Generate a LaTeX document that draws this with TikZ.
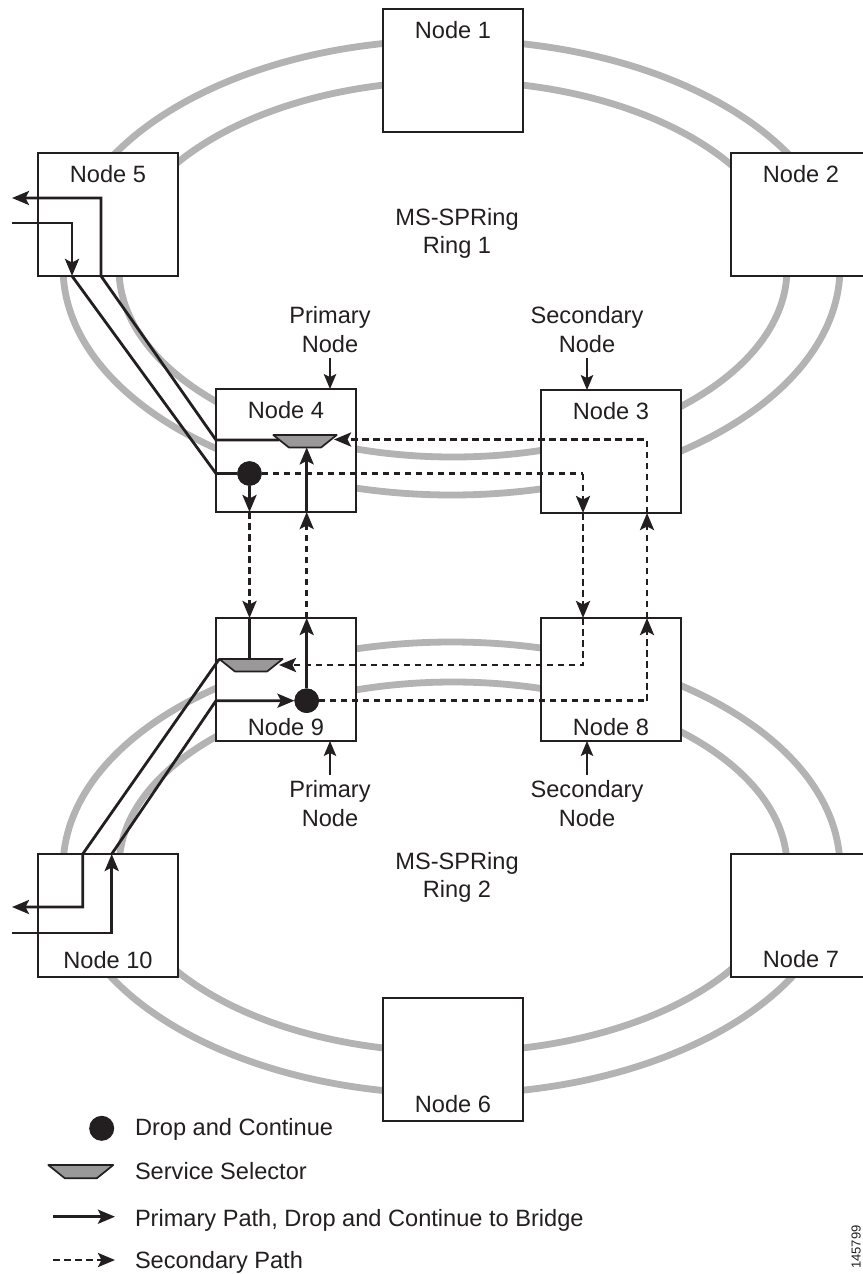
\documentclass[tikz,border=0pt]{standalone}
\usepackage{fontspec}
\setmainfont{Liberation Sans}
\usetikzlibrary{arrows.meta}
\definecolor{ringgray}{HTML}{B3B3B3}
\definecolor{selgray}{HTML}{999999}
\definecolor{ink}{HTML}{231F20}
\newcommand{\selshape}[1]{\draw[sel] (#1) ++(-31.7,-6.2) -- ++(63.4,0) -- ++(-15.5,12.4) -- ++(-32.4,0) -- cycle;}
\begin{document}
\begin{tikzpicture}[x=1pt,y=-1pt,
  ring/.style={draw=ringgray, line width=6.8pt},
  nbox/.style={draw=ink, fill=white, line width=2.3pt, minimum width=140pt, minimum height=123pt, inner sep=0pt, outer sep=0pt, anchor=north west},
  lbl/.style={font=\fontsize{23.6}{29}\selectfont, text=ink, anchor=base, inner sep=0pt, outer sep=0pt},
  lblw/.style={lbl, anchor=base west},
  ptip/.style={-{Stealth[length=17pt,width=14pt,inset=3.5pt]}},
  prim/.style={draw=ink, line width=2.8pt},
  sec/.style={draw=ink, line width=2.8pt, dash pattern=on 6.5pt off 4.5pt},
  lblarr/.style={draw=ink, line width=1.5pt, -{Stealth[length=15pt,width=12.5pt,inset=3pt]}},
  dotn/.style={circle, fill=ink, minimum size=24.5pt, inner sep=0pt, outer sep=0pt},
  sel/.style={draw=ink, fill=selgray, line width=1.7pt, line join=round}]
\useasboundingbox (0,0) rectangle (862,1274);
\fill[white] (0,0) rectangle (862,1274);

% rings
\draw[ring] (451.5,267.5) ellipse [x radius=388.5, y radius=227.5];
\draw[ring] (453,269) ellipse [x radius=334, y radius=188];
\draw[ring] (451.5,868) ellipse [x radius=388.5, y radius=226];
\draw[ring] (453,867) ellipse [x radius=334, y radius=185];

% boxes
\node[nbox] (n1) at (383,9) {};
\node[nbox] (n2) at (731,153) {};
\node[nbox] (n5) at (38,153) {};
\node[nbox] (n4) at (216,389) {};
\node[nbox] (n3) at (541,390) {};
\node[nbox] (n9) at (216,618) {};
\node[nbox] (n8) at (541,618) {};
\node[nbox] (n10) at (38,854) {};
\node[nbox] (n7) at (731,854) {};
\node[nbox] (n6) at (383,998) {};

% box labels
\node[lbl] (l1) at (453,38) {Node 1};
\node[lbl] (l2) at (801,182) {Node 2};
\node[lbl] (l5) at (108,182) {Node 5};
\node[lbl] (l4) at (286,418) {Node 4};
\node[lbl] (l3) at (611,419) {Node 3};
\node[lbl] (l9) at (286,735) {Node 9};
\node[lbl] (l8) at (611,735) {Node 8};
\node[lbl] (l10) at (108,968) {Node 10};
\node[lbl] (l7) at (801,967) {Node 7};
\node[lbl] (l6) at (453,1112) {Node 6};

% ring labels
\node[lbl] (r1a) at (457,225) {MS-SPRing};
\node[lbl] (r1b) at (457,253) {Ring 1};
\node[lbl] (r2a) at (457,869) {MS-SPRing};
\node[lbl] (r2b) at (457,897) {Ring 2};

% primary / secondary labels
\node[lbl] (p4a) at (330,323.5) {Primary};
\node[lbl] (p4b) at (330,352.5) {Node};
\node[lbl] (s3a) at (587,323.5) {Secondary};
\node[lbl] (s3b) at (587,352.5) {Node};
\node[lbl] (p9a) at (330,797) {Primary};
\node[lbl] (p9b) at (330,826) {Node};
\node[lbl] (s8a) at (587,797) {Secondary};
\node[lbl] (s8b) at (587,826) {Node};
\draw[lblarr] ([yshift=-5.5pt]p4b.base) -- (p4b |- n4.north);
\draw[lblarr] ([yshift=-5.5pt]s3b.base) -- (s3b |- n3.north);
\draw[lblarr] ([yshift=5pt]p9a.north) -- (p9a |- n9.south);
\draw[lblarr] ([yshift=5pt]s8a.north) -- (s8a |- n8.south);

% selectors and dots (positions)
\coordinate (s4) at (305,441.2);
\coordinate (s9) at (251,665.2);
\node[dotn] (d4) at (249.5,473.5) {};
\node[dotn] (d9) at (306.7,700.7) {};

% named path points
\coordinate (s4l) at (279,440);
\coordinate (s4r) at (334,439.5);
\coordinate (s4b) at (305,447.4);
\coordinate (s9l) at (219.3,659);
\coordinate (s9r) at (279,665);
\coordinate (a1) at (216,440);
\coordinate (a2) at (101,276);
\coordinate (a3) at (101,198);
\coordinate (out5) at (12,198);
\coordinate (in5) at (12,223);
\coordinate (b1) at (72,223);
\coordinate (b2) at (72,276);
\coordinate (b3) at (216,473.5);
\coordinate (c1) at (583,473.5);
\coordinate (c2) at (583,665);
\coordinate (e1) at (82.7,854);
\coordinate (e2) at (82.7,907);
\coordinate (out10) at (12,907);
\coordinate (in10) at (12,933);
\coordinate (f1) at (111.7,933);
\coordinate (f2) at (111.7,854);
\coordinate (f3) at (216,700.7);
\coordinate (g1) at (647,700.7);
\coordinate (g2) at (647,439.5);

% primary path from Node 4 selector to Node 5 drop
\draw[prim, ptip] (s4l) -- (a1) -- (a2) -- (a3) -- (out5);
% Node 5 add into ring 1 to Node 4 drop-and-continue
\draw[prim, ptip] (in5) -- (b1) -- (b2);
\draw[prim] (b2) -- (b3) -- (d4);
\draw[prim, ptip] (d4.south) -- (d4 |- n4.south);
\draw[sec, ptip] (d4 |- n4.south) -- (d4 |- n9.north);
\draw[prim] (d4 |- n9.north) -- (d4 |- s9);
% secondary from Node 4 via Node 3 / Node 8 to Node 9 selector
\draw[sec] (d4.east) -- (c1);
\draw[sec, ptip] (c1) -- (c1 |- n3.south);
\draw[sec, ptip] (c1 |- n3.south) -- (c1 |- n8.north);
\draw[sec, ptip] (c1 |- n8.north) -- (c2) -- (s9r);
% Node 9 selector to Node 10 drop
\draw[prim, ptip] (s9l) -- (e1) -- (e2) -- (out10);
% Node 10 add into ring 2 to Node 9 drop-and-continue
\draw[prim, ptip] (in10) -- (f1) -- (f2);
\draw[prim, ptip] (f2) -- (f3) -- (d9.west);
\draw[prim, ptip] (d9.north) -- (d9 |- n9.north);
\draw[sec, ptip] (d9 |- n9.north) -- (d9 |- n4.south);
\draw[prim, ptip] (d9 |- n4.south) -- (d9 |- s4b);
% secondary from Node 9 via Node 8 / Node 3 to Node 4 selector
\draw[sec] (d9.east) -- (g1);
\draw[sec, ptip] (g1) -- (g1 |- n8.north);
\draw[sec, ptip] (g1 |- n8.north) -- (g1 |- n3.south);
\draw[sec, ptip] (g1 |- n3.south) -- (g2) -- (s4r);

% selectors on top
\selshape{s4}
\selshape{s9}
\node[dotn] at (d4) {};
\node[dotn] at (d9) {};

% legend
\node[dotn, minimum size=25pt] (kd) at (101.7,1128.3) {};
\node[lblw] (kdt) at (135,1135) {Drop and Continue};
\coordinate (ks) at (80.8,1171.6);
\draw[sel] (ks) ++(-32.5,-6.6) -- ++(65,0) -- ++(-16.6,13.3) -- ++(-31.8,0) -- cycle;
\node[lblw] (kst) at (135,1179.5) {Service Selector};
\coordinate (kp1) at (53.3,1216.7);
\coordinate (kp2) at (115,1216.7);
\draw[prim, ptip] (kp1) -- (kp2);
\node[lblw] (kpt) at (135,1226.7) {Primary Path, Drop and Continue to Bridge};
\coordinate (kq1) at (53.3,1260);
\coordinate (kq2) at (115,1260);
\draw[sec, ptip] (kq1) -- (kq2);
\node[lblw] (kqt) at (135,1268) {Secondary Path};

% figure number at the right edge
\node[rotate=90, anchor=south, inner sep=0pt, font=\fontsize{13}{15}\selectfont, text=ink] (fig) at (861,1247) {145799};
\end{tikzpicture}
\end{document}
